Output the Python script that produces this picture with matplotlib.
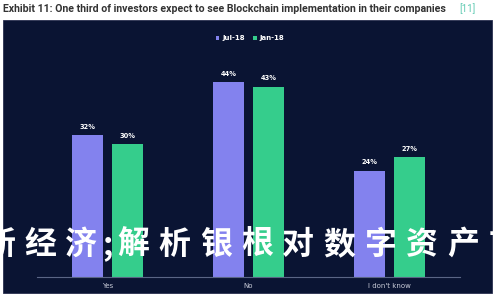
import matplotlib
matplotlib.use('Agg')
import matplotlib.pyplot as plt
from matplotlib.patches import Rectangle
import numpy as np

categories = ['Yes', 'No', "I don't know"]
jul_18 = [32, 44, 24]
jan_18 = [30, 43, 27]
series_names = ['Jul-18', 'Jan-18']
title = 'Exhibit 11: One third of investors expect to see Blockchain implementation in their companies'
overlay = '新经济;解析银根对数字资产市场'

W, H = 500, 300
bg = '#0a1433'
c_jul = '#8382ee'
c_jan = '#35cd8c'

fig = plt.figure(figsize=(W / 100, H / 100), dpi=100)
fig.patch.set_facecolor('white')

# dark panel behind the chart
fig.patches.append(Rectangle((3 / W, 1 - 293 / H), 489 / W, 273 / H,
                             transform=fig.transFigure, facecolor=bg,
                             edgecolor='#2a3050', linewidth=0.6, zorder=-5))

fig.text(3 / W, 1 - 9 / H, title, fontsize=7.6, fontweight='bold',
         color='#333333', family='Roboto', va='center', ha='left')
fig.text(459 / W, 1 - 9 / H, '[11]', fontsize=7, color='#5cc9b0',
         family='Roboto', va='center', ha='left')

ax = fig.add_axes([37 / W, 1 - 277 / H, 423 / W, 50 * 4.43 / H])
ax.set_facecolor('none')
ax.set_zorder(1)
x = np.arange(len(categories))
w = 0.22
off = 0.142
b1 = ax.bar(x - off, jul_18, w, color=c_jul, label=series_names[0])
b2 = ax.bar(x + off, jan_18, w, color=c_jan, label=series_names[1])
for bars in (b1, b2):
    for b in bars:
        ax.text(b.get_x() + b.get_width() / 2, b.get_height() + 1.2,
                f'{int(b.get_height())}%', ha='center', va='bottom',
                fontsize=4.8, color='white', fontweight='bold')
ax.set_xlim(-0.5, 2.5)
ax.set_ylim(0, 50)
for s in ['top', 'right', 'left']:
    ax.spines[s].set_visible(False)
ax.spines['bottom'].set_color('#5a6585')
ax.spines['bottom'].set_linewidth(0.8)
ax.set_yticks([])
ax.set_xticks(x)
ax.set_xticklabels(categories, fontsize=5, color='#c8cbd8')
ax.tick_params(axis='x', length=0, pad=4)

leg = fig.legend(handles=[b1, b2], loc='center', bbox_to_anchor=(250 / W, 1 - 38 / H),
                 ncol=2, frameon=False, fontsize=5, handlelength=0.5, handleheight=0.5,
                 handletextpad=0.4, columnspacing=1.2)
for t in leg.get_texts():
    t.set_color('white')
    t.set_fontweight('bold')

# watermark text across the chart (semicolon is half width)
xpos = -1.0
prev = None
for ch in overlay:
    if prev is not None:
        xpos += 26 if (ch == ';' or prev == ';') else 41.2
    fig.text(xpos / W, 1 - 245 / H, ch, fontsize=23, fontweight='bold',
             color='white', family=['Noto Sans CJK SC', 'DejaVu Sans'],
             ha='center', va='center', zorder=10)
    prev = ch

fig.savefig('out.png', dpi=100, facecolor='white')
